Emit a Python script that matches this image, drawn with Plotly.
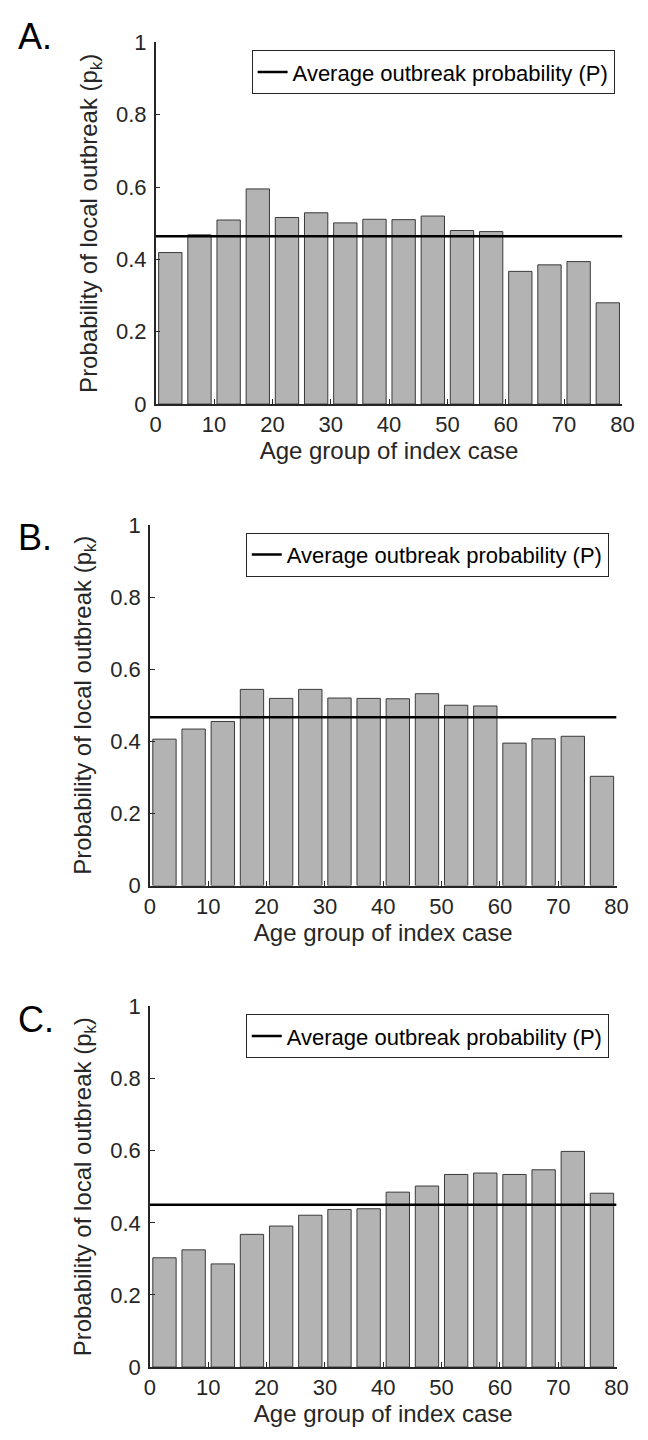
import plotly.graph_objects as go

# ---- data ----
age_centers = [2.5, 7.5, 12.5, 17.5, 22.5, 27.5, 32.5, 37.5,
               42.5, 47.5, 52.5, 57.5, 62.5, 67.5, 72.5, 77.5]

pk_A = [0.419, 0.468, 0.509, 0.595, 0.516, 0.529, 0.501, 0.511,
        0.510, 0.520, 0.480, 0.477, 0.367, 0.385, 0.394, 0.280]
P_A = 0.464

pk_B = [0.406, 0.434, 0.455, 0.544, 0.519, 0.544, 0.520, 0.519,
        0.518, 0.532, 0.500, 0.498, 0.395, 0.407, 0.414, 0.303]
P_B = 0.467

pk_C = [0.303, 0.325, 0.286, 0.368, 0.391, 0.421, 0.437, 0.439,
        0.485, 0.502, 0.534, 0.538, 0.534, 0.547, 0.598, 0.482]
P_C = 0.450

panel_labels = ["A.", "B.", "C."]
x_ticks = [0, 10, 20, 30, 40, 50, 60, 70, 80]
y_ticks = [0, 0.2, 0.4, 0.6, 0.8, 1]
y_ticktext = ["0", "0.2", "0.4", "0.6", "0.8", "1"]
legend_text = "Average outbreak probability (P)"
x_title = "Age group of index case"
y_title = "Probability of local outbreak (p<sub>k</sub>)"

W, H = 648, 1440
FONT = "Liberation Sans, Arial, Helvetica, sans-serif"
AX = "#262626"

# pixel boxes for each panel: (x0, x1, ytop, ybottom)
boxes = [(154, 634, 31, 399), (148, 628, 522, 889), (148, 628, 1012, 1379)]
legend_pos = [(626, 39), (620, 530), (620, 1020)]
label_y = [25, 535, 1025]

series = [(pk_A, P_A), (pk_B, P_B), (pk_C, P_C)]

fig = go.Figure()
layout = dict(
    width=W, height=H,
    margin=dict(l=0, r=0, t=0, b=0),
    paper_bgcolor="white", plot_bgcolor="white",
    font=dict(family=FONT, color="#262626"),
    annotations=[],
)

for i, ((x0, x1, yt, yb), (pk, P)) in enumerate(zip(boxes, series)):
    n = "" if i == 0 else str(i + 1)
    xa, ya = "x" + n, "y" + n
    leg = "legend" + n
    fig.add_trace(go.Bar(
        x=age_centers, y=pk, width=4,
        marker=dict(color="#b3b3b3", line=dict(color="#3a3a3a", width=1)),
        xaxis=xa, yaxis=ya, showlegend=False, hoverinfo="skip",
    ))
    fig.add_trace(go.Scatter(
        x=[0, 80], y=[P, P], mode="lines",
        line=dict(color="black", width=2.5),
        name=legend_text, xaxis=xa, yaxis=ya, legend=leg, showlegend=True,
    ))
    layout["xaxis" + n] = dict(
        domain=[x0 / W, x1 / W], anchor=ya, range=[0, 80],
        tickmode="array", tickvals=x_ticks, ticks="inside", ticklen=5,
        tickcolor=AX, tickwidth=1,
        showline=True, linecolor=AX, linewidth=1.5, mirror=False,
        showgrid=False, zeroline=False,
        tickfont=dict(size=22, color="#262626", family=FONT),
        ticklabelstandoff=0,
        title=dict(text=x_title, font=dict(size=24, color="#262626", family=FONT), standoff=6),
    )
    layout["yaxis" + n] = dict(
        domain=[1 - yb / H, 1 - yt / H], anchor=xa, range=[0, 1],
        tickmode="array", tickvals=y_ticks, ticktext=y_ticktext,
        ticks="inside", ticklen=5, tickcolor=AX, tickwidth=1,
        showline=True, linecolor=AX, linewidth=1.5, mirror=False,
        showgrid=False, zeroline=False,
        tickfont=dict(size=22, color="#262626", family=FONT),
        ticklabelstandoff=3,
        title=dict(text=y_title, font=dict(size=24, color="#262626", family=FONT), standoff=12),
    )
    lx, ly = legend_pos[i]
    layout[leg] = dict(
        x=lx / W, y=1 - ly / H, xanchor="right", yanchor="top",
        bordercolor="#262626", borderwidth=1, bgcolor="white",
        font=dict(size=22, color="black", family=FONT),
        itemwidth=30,
    )
    layout["annotations"].append(dict(
        text=panel_labels[i], xref="paper", yref="paper",
        x=10 / W, y=1 - label_y[i] / H, xanchor="left", yanchor="middle",
        showarrow=False, font=dict(size=36, color="black", family=FONT),
    ))

fig.update_layout(**layout)
fig.write_html("out.html")
